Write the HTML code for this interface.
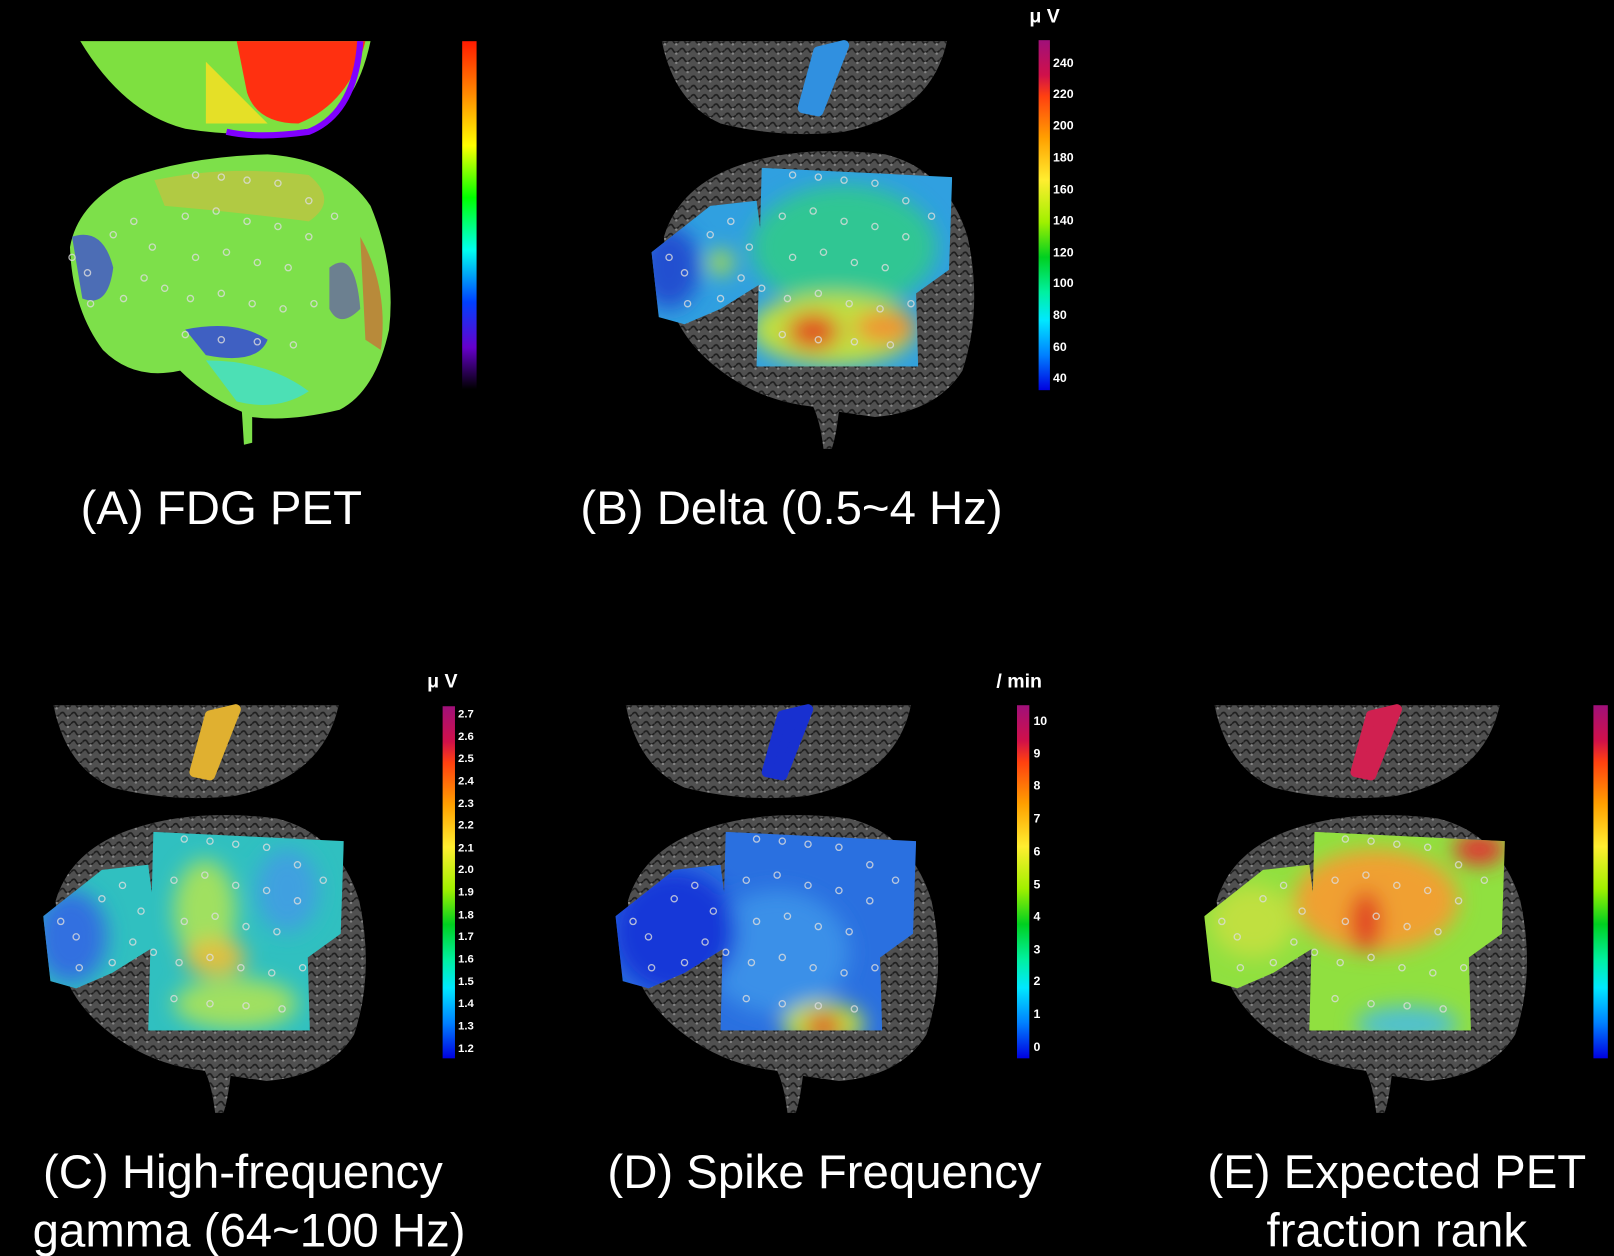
<!DOCTYPE html>
<html><head><style>html,body{margin:0;padding:0;background:#000;overflow:hidden}svg{display:block}</style></head>
<body>
<svg width="1614" height="1256" viewBox="0 0 1568 1220" preserveAspectRatio="none" xmlns="http://www.w3.org/2000/svg" font-family="Liberation Sans, sans-serif">
<defs>
<filter id="bl" x="-10%" y="-10%" width="120%" height="120%"><feGaussianBlur stdDeviation="10"/></filter>
<linearGradient id="rb" x1="0" y1="0" x2="0" y2="1">
<stop offset="0" stop-color="#ff1a00"/><stop offset="0.15" stop-color="#ff8800"/><stop offset="0.3" stop-color="#ffff00"/><stop offset="0.45" stop-color="#00ff00"/><stop offset="0.6" stop-color="#00ffee"/><stop offset="0.75" stop-color="#0040ff"/><stop offset="0.88" stop-color="#6600cc"/><stop offset="1" stop-color="#000"/></linearGradient>
<linearGradient id="cb" x1="0" y1="0" x2="0" y2="1">
<stop offset="0" stop-color="#a0107a"/><stop offset="0.1" stop-color="#d0104a"/><stop offset="0.16" stop-color="#ff4010"/><stop offset="0.28" stop-color="#ffa000"/><stop offset="0.4" stop-color="#ffee30"/><stop offset="0.52" stop-color="#a0f000"/><stop offset="0.62" stop-color="#00d020"/><stop offset="0.72" stop-color="#00f0a0"/><stop offset="0.8" stop-color="#00e8ff"/><stop offset="0.9" stop-color="#0080ff"/><stop offset="1" stop-color="#0000e0"/></linearGradient>
<pattern id="tex" width="11" height="9" patternUnits="userSpaceOnUse"><path d="M0 4 Q3 0 5 4 T11 4" stroke="#1e1e1e" stroke-width="1.6" fill="none"/><circle cx="8" cy="7" r="1.2" fill="#888"/></pattern>
<g id="brain">
<path d="M645 230 Q660 180 720 160 Q780 140 860 150 Q920 165 940 230 Q955 300 935 360 Q910 400 850 405 L815 400 Q812 425 808 436 L800 436 Q797 410 790 395 Q740 390 700 360 Q660 330 650 290 Z" fill="#505050"/>
<path d="M645 230 Q660 180 720 160 Q780 140 860 150 Q920 165 940 230 Q955 300 935 360 Q910 400 850 405 L815 400 Q812 425 808 436 L800 436 Q797 410 790 395 Q740 390 700 360 Q660 330 650 290 Z" fill="url(#tex)"/>
<path d="M643 40 L920 40 Q905 110 820 128 Q760 135 700 120 Q655 100 643 40 Z" fill="#505050"/>
<path d="M643 40 L920 40 Q905 110 820 128 Q760 135 700 120 Q655 100 643 40 Z" fill="url(#tex)"/>
</g>
<g id="dots" fill="none" stroke="#ddd" stroke-width="1.3" opacity="0.8">
<circle cx="650" cy="250" r="3"/><circle cx="665" cy="265" r="3"/><circle cx="690" cy="228" r="3"/><circle cx="710" cy="215" r="3"/><circle cx="728" cy="240" r="3"/><circle cx="700" cy="290" r="3"/><circle cx="668" cy="295" r="3"/><circle cx="720" cy="270" r="3"/><circle cx="740" cy="280" r="3"/>
<circle cx="770" cy="170" r="3"/><circle cx="795" cy="172" r="3"/><circle cx="820" cy="175" r="3"/><circle cx="850" cy="178" r="3"/><circle cx="880" cy="195" r="3"/><circle cx="905" cy="210" r="3"/>
<circle cx="760" cy="210" r="3"/><circle cx="790" cy="205" r="3"/><circle cx="820" cy="215" r="3"/><circle cx="850" cy="220" r="3"/><circle cx="880" cy="230" r="3"/>
<circle cx="770" cy="250" r="3"/><circle cx="800" cy="245" r="3"/><circle cx="830" cy="255" r="3"/><circle cx="860" cy="260" r="3"/>
<circle cx="765" cy="290" r="3"/><circle cx="795" cy="285" r="3"/><circle cx="825" cy="295" r="3"/><circle cx="855" cy="300" r="3"/><circle cx="885" cy="295" r="3"/>
<circle cx="760" cy="325" r="3"/><circle cx="795" cy="330" r="3"/><circle cx="830" cy="332" r="3"/><circle cx="865" cy="335" r="3"/>
</g>
<clipPath id="ov"><path d="M633 245 L690 200 L735 195 L745 272 L700 300 L665 315 L640 308 Z M740 163 L925 172 L922 262 L890 285 L892 356 L735 356 Z"/></clipPath>
</defs>
<rect width="1568" height="1220" fill="#000"/>

<!-- Panel A -->
<g filter="url(#bl)" opacity="1">
</g>
<path d="M78 40 L360 40 Q345 110 300 125 Q240 135 180 125 Q120 110 78 40 Z" fill="#7ee040"/>
<path d="M230 40 L355 40 Q340 100 290 120 Q250 120 240 90 Z" fill="#ff3010"/>
<path d="M200 60 Q230 90 260 120 L200 120 Z" fill="#ffe020" opacity="0.8"/>
<path d="M350 40 Q345 110 300 128 Q250 135 220 128" stroke="#8000ff" stroke-width="6" fill="none"/>
<path d="M68 240 Q75 200 120 175 Q180 152 260 150 Q330 155 360 200 Q385 260 378 320 Q365 380 330 398 Q280 410 245 405 L245 430 L237 432 L235 400 Q200 385 175 360 Q130 370 100 340 Q70 300 68 240 Z" fill="#7de04a"/>
<path d="M150 175 Q220 160 300 170 Q330 195 300 215 Q220 205 160 200 Z" fill="#c8c040" opacity="0.7"/>
<path d="M70 230 Q100 220 110 260 Q105 300 80 290 Z" fill="#4050d0" opacity="0.8"/>
<path d="M180 320 Q230 310 260 330 Q250 355 200 345 Z" fill="#3040e0" opacity="0.8"/>
<path d="M200 350 Q260 350 300 380 Q270 400 230 390 Z" fill="#40e0d0" opacity="0.8"/>
<path d="M320 260 Q345 240 350 300 Q330 320 320 300 Z" fill="#6040c0" opacity="0.6"/>
<path d="M350 230 Q378 280 370 340 L355 330 Z" fill="#e05030" opacity="0.6"/>
<g transform="translate(-580,0)"><use href="#dots"/></g>
<rect x="449" y="40" width="14" height="338" fill="url(#rb)"/>

<!-- Panel B -->
<use href="#brain"/>
<g clip-path="url(#ov)">
<rect x="630" y="150" width="310" height="220" fill="#30a0e0"/>
<g filter="url(#bl)">
<ellipse cx="820" cy="240" rx="90" ry="60" fill="#30d080" opacity="0.8"/>
<ellipse cx="810" cy="320" rx="80" ry="35" fill="#c0e040"/>
<ellipse cx="790" cy="322" rx="25" ry="18" fill="#e05020"/>
<ellipse cx="860" cy="318" rx="30" ry="15" fill="#f09030"/>
<ellipse cx="650" cy="260" rx="30" ry="40" fill="#2050d0"/>
<ellipse cx="700" cy="255" rx="12" ry="12" fill="#b0e040"/>
</g>
<use href="#dots"/>
</g>
<path d="M795 50 L820 44 L795 108 L780 105 Z" fill="#3090e0" stroke="#3090e0" stroke-width="10" stroke-linejoin="round"/>
<rect x="1009" y="39" width="11" height="340" fill="url(#cb)"/>
<text x="1000" y="22" fill="#fff" font-size="19" font-weight="bold">μ V</text>
<g fill="#fff" font-size="12" font-weight="bold">
<text x="1023" y="65">240</text><text x="1023" y="95">220</text><text x="1023" y="126">200</text><text x="1023" y="157">180</text><text x="1023" y="188">160</text><text x="1023" y="218">140</text><text x="1023" y="249">120</text><text x="1023" y="279">100</text><text x="1023" y="310">80</text><text x="1023" y="341">60</text><text x="1023" y="371">40</text></g>

<!-- Panel C -->
<g transform="translate(-591,645)">
<use href="#brain"/>
<g clip-path="url(#ov)">
<rect x="630" y="150" width="310" height="220" fill="#30c0c0"/>
<g filter="url(#bl)">
<ellipse cx="660" cy="265" rx="35" ry="45" fill="#3070e0"/>
<ellipse cx="790" cy="240" rx="30" ry="50" fill="#a0e060"/>
<ellipse cx="800" cy="285" rx="30" ry="18" fill="#e0c040"/>
<ellipse cx="820" cy="330" rx="60" ry="25" fill="#a0e060"/>
<ellipse cx="870" cy="220" rx="30" ry="40" fill="#40a0e0"/>
</g>
<use href="#dots"/>
</g>
<path d="M795 50 L820 44 L795 108 L780 105 Z" fill="#e0b030" stroke="#e0b030" stroke-width="10" stroke-linejoin="round"/>
</g>
<rect x="430" y="686" width="12" height="342" fill="url(#cb)"/>
<text x="415" y="668" fill="#fff" font-size="19" font-weight="bold">μ V</text>
<g fill="#fff" font-size="11" font-weight="bold">
<text x="445" y="697">2.7</text><text x="445" y="719">2.6</text><text x="445" y="740">2.5</text><text x="445" y="762">2.4</text><text x="445" y="784">2.3</text><text x="445" y="805">2.2</text><text x="445" y="827">2.1</text><text x="445" y="848">2.0</text><text x="445" y="870">1.9</text><text x="445" y="892">1.8</text><text x="445" y="913">1.7</text><text x="445" y="935">1.6</text><text x="445" y="957">1.5</text><text x="445" y="978">1.4</text><text x="445" y="1000">1.3</text><text x="445" y="1022">1.2</text></g>

<!-- Panel D -->
<g transform="translate(-35,645)">
<use href="#brain"/>
<g clip-path="url(#ov)">
<rect x="630" y="150" width="310" height="220" fill="#2a70e0"/>
<g filter="url(#bl)">
<ellipse cx="790" cy="280" rx="70" ry="60" fill="#3a90e8"/>
<ellipse cx="690" cy="260" rx="60" ry="60" fill="#1838d8"/>
<ellipse cx="835" cy="350" rx="40" ry="22" fill="#c0e040"/>
<ellipse cx="835" cy="352" rx="18" ry="12" fill="#e03020"/>
</g>
<use href="#dots"/>
</g>
<path d="M795 50 L820 44 L795 108 L780 105 Z" fill="#1830d0" stroke="#1830d0" stroke-width="10" stroke-linejoin="round"/>
</g>
<rect x="988" y="685" width="12" height="343" fill="url(#cb)"/>
<text x="968" y="668" fill="#fff" font-size="19" font-weight="bold">/ min</text>
<g fill="#fff" font-size="12" font-weight="bold">
<text x="1004" y="704">10</text><text x="1004" y="736">9</text><text x="1004" y="767">8</text><text x="1004" y="799">7</text><text x="1004" y="831">6</text><text x="1004" y="863">5</text><text x="1004" y="894">4</text><text x="1004" y="926">3</text><text x="1004" y="957">2</text><text x="1004" y="989">1</text><text x="1004" y="1021">0</text></g>

<!-- Panel E -->
<g transform="translate(537,645)">
<use href="#brain"/>
<g clip-path="url(#ov)">
<rect x="630" y="150" width="310" height="220" fill="#90e040"/>
<g filter="url(#bl)">
<ellipse cx="800" cy="230" rx="80" ry="50" fill="#f0a030"/>
<ellipse cx="790" cy="250" rx="15" ry="30" fill="#e04020"/>
<ellipse cx="680" cy="250" rx="40" ry="35" fill="#c0e040"/>
<ellipse cx="830" cy="350" rx="50" ry="18" fill="#50c0d0"/>
<ellipse cx="900" cy="180" rx="25" ry="15" fill="#e03030"/>
</g>
<use href="#dots"/>
</g>
<path d="M795 50 L820 44 L795 108 L780 105 Z" fill="#d02050" stroke="#d02050" stroke-width="10" stroke-linejoin="round"/>
</g>
<rect x="1548" y="685" width="14" height="343" fill="url(#cb)"/>

<!-- Labels -->
<g fill="#fff" font-size="46" text-anchor="middle">
<text x="215" y="509">(A) FDG PET</text>
<text x="769" y="509">(B) Delta (0.5~4 Hz)</text>
<text x="236" y="1154">(C) High-frequency</text>
<text x="242" y="1211">gamma (64~100 Hz)</text>
<text x="801" y="1154">(D) Spike Frequency</text>
<text x="1357" y="1154">(E) Expected PET</text>
<text x="1357" y="1211">fraction rank</text>
</g>
</svg>
</body></html>
